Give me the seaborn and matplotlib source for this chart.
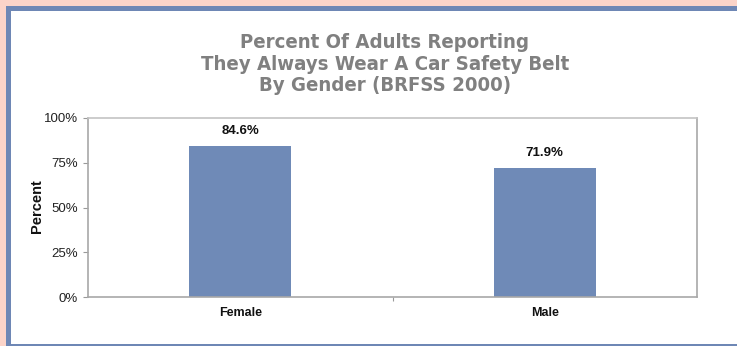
import matplotlib
matplotlib.use("Agg")
import matplotlib.pyplot as plt
import matplotlib.patches as mpatches
from matplotlib.ticker import FuncFormatter
import seaborn as sns
import pandas as pd

# Belt use by gender, BRFSS 2000
genders = ["Female", "Male"]
percent_always = [84.6, 71.9]
y_ticks = [0, 25, 50, 75, 100]

title = "Percent Of Adults Reporting\nThey Always Wear A Car Safety Belt\nBy Gender (BRFSS 2000)"

df = pd.DataFrame({"Gender": genders, "Percent": percent_always})

sns.set_theme(style="white")
plt.rcParams["font.family"] = ["Liberation Sans", "DejaVu Sans"]

W, H = 737, 346
fig = plt.figure(figsize=(W / 100, H / 100), dpi=100)
fig.patch.set_facecolor("#FBD4C9")

# blue frame and white panel
fig.patches.append(mpatches.Rectangle((6 / W, 0), 1, 1 - 6 / H, transform=fig.transFigure,
                                      facecolor="#6E87B5", edgecolor="none", zorder=-2))
fig.patches.append(mpatches.Rectangle((11 / W, 2 / H), 1, 1 - 13 / H, transform=fig.transFigure,
                                      facecolor="white", edgecolor="none", zorder=-1))

ax = fig.add_axes([88 / W, 1 - 297 / H, 609 / W, 179 / H])
ax.set_zorder(2)
ax.set_facecolor("white")

sns.barplot(data=df, x="Gender", y="Percent", ax=ax, color="#6F8AB7",
            width=0.335, saturation=1, edgecolor="none")

ax.set_ylim(0, 100)
ax.set_xlim(-0.5, 1.5)
ax.set_yticks(y_ticks)
ax.yaxis.set_major_formatter(FuncFormatter(lambda v, p: f"{v:.0f}%"))
ax.tick_params(axis="y", labelsize=9.5, colors="#999999", labelcolor="#222222",
               length=3.6, width=0.8, direction="out", left=True, pad=3.6)

ax.set_xticks([0, 1])
ax.set_xticks([0.5], minor=True)
ax.tick_params(axis="x", which="major", length=0, pad=7)
ax.tick_params(axis="x", which="minor", length=3, color="#999999", width=0.8,
               bottom=True, direction="out")
for lbl in ax.get_xticklabels():
    lbl.set_fontweight("bold")
    lbl.set_fontsize(9)
    lbl.set_color("#111111")

for s in ax.spines.values():
    s.set_visible(True)
    s.set_color("#A8A8A8")
    s.set_linewidth(1.2)
ax.spines["top"].set_color("#C4C4C4")

ax.set_xlabel("")
ax.set_ylabel("Percent", fontsize=10.5, fontweight="bold", color="#111111")
ax.yaxis.set_label_coords((44 - 88) / 609, (297 - 206) / 179)

for i, v in enumerate(percent_always):
    ax.text(i, v + 5, f"{v:.1f}%", ha="center", va="bottom", fontsize=9.5,
            fontweight="bold", color="#111111")

fig.text(385 / W, 1 - 64 / H, title, ha="center", va="center", fontsize=14.6,
         fontweight="bold", fontstretch="condensed", color="#808080", linespacing=1.15,
         family=["Liberation Sans Narrow", "DejaVu Sans"])

fig.savefig("out.png", dpi=100, facecolor=fig.get_facecolor())
